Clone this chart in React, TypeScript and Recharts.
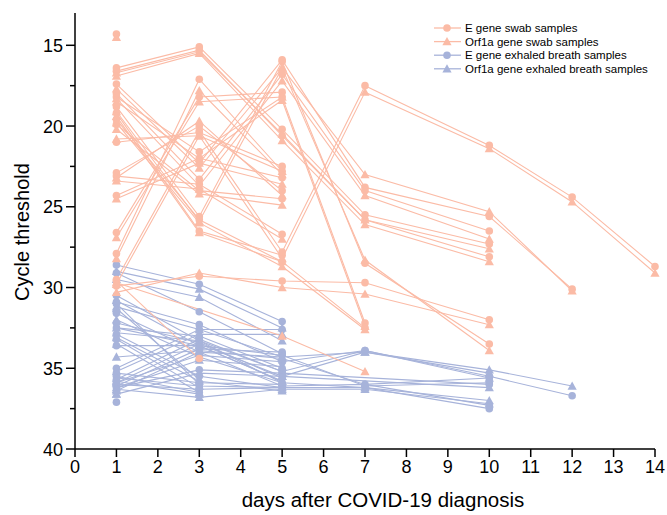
import React from 'react';
import { LineChart, Line, XAxis, YAxis } from 'recharts';

const N = null;
const DAYS = [1, 3, 5, 7, 10, 12, 14];

// Swab samples (one row per patient, values at DAYS)
const swabE: (number | null)[][] = [
  [14.3, N, N, N, N, N, N],
  [16.4, 15.1, 20.2, 25.5, 27.3, N, N],
  [16.6, 15.3, 20.6, 25.8, 28.1, N, N],
  [17.4, 22.3, 15.9, 23.8, 25.6, 30.1, N],
  [18.0, 23.3, 16.8, 24.0, 26.5, N, N],
  [18.2, 21.6, 18.2, 32.2, N, N, N],
  [18.8, 25.6, 16.0, 28.5, 33.5, N, N],
  [19.2, 26.5, 28.0, N, N, N, N],
  [19.6, 25.8, 28.4, 32.5, N, N, N],
  [19.9, 24.0, 24.5, N, N, N, N],
  [21.0, 20.4, 22.5, N, N, N, N],
  [22.9, 20.0, 24.0, N, N, N, N],
  [23.1, 23.6, 26.7, N, N, N, N],
  [24.3, 22.0, 23.2, N, N, N, N],
  [26.6, 18.2, 17.9, N, N, N, N],
  [27.9, 17.1, 22.8, N, N, N, N],
  [29.5, 20.3, 27.8, 17.5, 21.2, 24.4, 28.7],
  [29.9, 29.3, 29.6, 29.7, 32.0, N, N],
  [29.6, 34.4, N, N, N, N, N],
];
const swabOrf1a: (number | null)[][] = [
  [14.5, N, N, N, N, N, N],
  [16.7, 15.4, 20.5, 25.8, 27.6, N, N],
  [16.9, 15.5, 20.9, 26.1, 28.4, N, N],
  [17.7, 22.6, 16.4, 23.0, 25.3, 30.2, N],
  [18.3, 23.7, 17.2, 24.3, 27.0, N, N],
  [18.5, 22.0, 18.4, 32.4, N, N, N],
  [19.1, 25.9, 16.4, 28.3, 33.9, N, N],
  [19.4, 26.6, 28.4, N, N, N, N],
  [19.8, 26.0, 28.7, 32.6, N, N, N],
  [20.2, 24.2, 24.9, N, N, N, N],
  [20.8, 20.6, 22.8, N, N, N, N],
  [23.2, 19.7, 24.3, N, N, N, N],
  [23.4, 23.9, 27.0, N, N, N, N],
  [24.5, 22.3, 23.6, N, N, N, N],
  [26.9, 18.5, 18.2, N, N, N, N],
  [28.2, 17.8, 23.0, N, N, N, N],
  [29.8, 20.6, 28.2, 17.9, 21.4, 24.7, 29.1],
  [30.3, 29.1, 30.0, 30.4, 32.3, N, N],
  [29.7, N, 33.0, 35.2, N, N, N],
];

// Exhaled breath samples
const breathE: (number | null)[][] = [
  [28.6, 29.8, 32.1, N, N, N, N],
  [29.1, 31.5, 34.1, N, N, N, N],
  [30.5, 33.3, 35.9, N, N, N, N],
  [30.9, 32.3, 34.6, 33.9, 35.5, 36.7, N],
  [31.6, 34.0, 36.1, 36.0, 37.3, N, N],
  [32.5, 33.0, 35.0, N, N, N, N],
  [32.9, 35.5, 36.2, N, N, N, N],
  [33.2, 36.2, N, N, N, N, N],
  [33.6, 33.6, 34.2, 36.1, 35.9, N, N],
  [35.0, 32.6, 32.6, N, N, N, N],
  [35.3, 35.9, 36.0, N, N, N, N],
  [35.7, 33.2, 35.2, 33.9, 35.6, N, N],
  [35.9, 34.2, 34.6, N, N, N, N],
  [36.0, 36.3, 36.2, 36.2, 37.5, N, N],
  [36.1, 33.8, 34.0, N, N, N, N],
  [37.1, N, N, N, N, N, N],
  [31.0, 36.0, N, N, N, N, N],
  [32.2, 33.4, 35.6, N, N, N, N],
  [35.5, 36.5, N, N, N, N, N],
  [36.2, 35.1, 35.3, N, 36.0, N, N],
];
const breathOrf1a: (number | null)[][] = [
  [29.0, 30.1, 32.5, N, N, N, N],
  [29.5, 30.6, 33.3, N, N, N, N],
  [30.8, 33.6, 35.8, N, N, N, N],
  [31.2, 32.6, 34.3, 34.0, 35.1, 36.1, N],
  [32.0, 34.3, 35.9, 36.2, 37.0, N, N],
  [32.8, 33.3, 35.2, N, N, N, N],
  [33.1, 35.8, 36.4, N, N, N, N],
  [33.5, 36.5, N, N, N, N, N],
  [34.3, 33.9, 34.4, 36.0, 35.6, N, N],
  [35.2, 32.9, 32.9, N, N, N, N],
  [35.6, 36.1, 36.2, N, N, N, N],
  [35.9, 33.5, 35.5, 34.0, 35.3, N, N],
  [36.2, 34.5, 34.9, N, N, N, N],
  [36.3, 36.8, 36.3, 36.3, 37.2, N, N],
  [36.4, 34.0, 34.3, N, N, N, N],
  [36.6, N, N, N, N, N, N],
  [31.3, 35.7, N, N, N, N, N],
  [32.5, 33.6, 35.8, N, N, N, N],
  [35.8, 36.6, N, N, N, N, N],
  [36.6, 35.3, 35.5, N, 36.2, N, N],
];

const X_TICKS = [0, 1, 2, 3, 4, 5, 6, 7, 8, 9, 10, 11, 12, 13, 14];
const Y_TICKS = [15, 17.5, 20, 22.5, 25, 27.5, 30, 32.5, 35, 37.5, 40];
const LEGEND_LABELS = [
  'E gene swab samples',
  'Orf1a gene swab samples',
  'E gene exhaled breath samples',
  'Orf1a gene exhaled breath samples',
];

const SWAB = '#FBBBA6';
const BREATH = '#A7B3DA';
const FONT = '"Liberation Sans", Arial, Helvetica, sans-serif';

function toSeries(row: (number | null)[]) {
  const out: { day: number; ct: number }[] = [];
  row.forEach((v, i) => {
    if (v != null) out.push({ day: DAYS[i], ct: v });
  });
  return out;
}

const makeCircle = (color: string) => (props: any) => {
  const { cx, cy, index } = props;
  if (cx == null || cy == null) return <g key={`c${index}`} />;
  return <circle key={`c${index}`} cx={cx} cy={cy} r={3.8} fill={color} stroke="none" />;
};
const makeTri = (color: string) => (props: any) => {
  const { cx, cy, index } = props;
  if (cx == null || cy == null) return <g key={`t${index}`} />;
  const s = 4.6;
  return (
    <path
      key={`t${index}`}
      d={`M${cx},${cy - s} L${cx + s},${cy + s * 0.8} L${cx - s},${cy + s * 0.8} Z`}
      fill={color}
      stroke="none"
    />
  );
};

const XTick = (props: any) => {
  const { x, y, payload } = props;
  return (
    <g>
      <line x1={x} x2={x} y1={y} y2={y + 8} stroke="#000" strokeWidth={1.5} />
      <text x={x} y={y + 23.5} textAnchor="middle" fontSize={18} fontFamily={FONT} fill="#000">
        {payload.value}
      </text>
    </g>
  );
};

const YTick = (props: any) => {
  const { x, y, payload } = props;
  const major = payload.value % 5 === 0;
  return (
    <g>
      <line x1={x - (major ? 9 : 5)} x2={x} y1={y} y2={y} stroke="#000" strokeWidth={1.5} />
      {major && (
        <text x={x - 12} y={y + 6.5} textAnchor="end" fontSize={18} fontFamily={FONT} fill="#000">
          {payload.value}
        </text>
      )}
    </g>
  );
};

const YTitle = (props: any) => {
  const vb = props.viewBox || {};
  const cx = (vb.x || 0) + 29;
  const cy = (vb.y || 0) + (vb.height || 0) / 2 + 1;
  return (
    <text
      x={cx}
      y={cy}
      transform={`rotate(-90 ${cx} ${cy})`}
      textAnchor="middle"
      fontSize={20}
      fontFamily={FONT}
      fill="#000"
    >
      Cycle threshold
    </text>
  );
};

const XTitle = (props: any) => {
  const vb = props.viewBox || {};
  const cx = (vb.x || 0) + (vb.width || 0) / 2 + 18;
  const cy = (vb.y || 0) + 58;
  return (
    <text x={cx} y={cy} textAnchor="middle" fontSize={20.5} fontFamily={FONT} fill="#000">
      days after COVID-19 diagnosis
    </text>
  );
};

const LegendBox = () => {
  const rows = [
    { color: SWAB, tri: false },
    { color: SWAB, tri: true },
    { color: BREATH, tri: false },
    { color: BREATH, tri: true },
  ];
  return (
    <svg
      width={240}
      height={70}
      style={{ position: 'absolute', left: 430, top: 15 }}
    >
      {rows.map((r, i) => {
        const cy = 13 + i * 13.6;
        const cx = 17;
        return (
          <g key={i}>
            <line x1={4} x2={31} y1={cy} y2={cy} stroke={r.color} strokeWidth={1.3} />
            {r.tri ? (
              <path d={`M${cx},${cy - 4.6} L${cx + 4.6},${cy + 3.7} L${cx - 4.6},${cy + 3.7} Z`} fill={r.color} />
            ) : (
              <circle cx={cx} cy={cy} r={3.8} fill={r.color} />
            )}
            <text x={35} y={cy + 4} fontSize={11.5} fontFamily={FONT} fill="#000">
              {LEGEND_LABELS[i]}
            </text>
          </g>
        );
      })}
    </svg>
  );
};

export default function App() {
  const groups = [
    { rows: breathE, color: BREATH, dot: makeCircle(BREATH), id: 'be' },
    { rows: breathOrf1a, color: BREATH, dot: makeTri(BREATH), id: 'bo' },
    { rows: swabE, color: SWAB, dot: makeCircle(SWAB), id: 'se' },
    { rows: swabOrf1a, color: SWAB, dot: makeTri(SWAB), id: 'so' },
  ];
  return (
    <div style={{ position: 'absolute', left: 0, top: 0, width: 667, height: 515, background: '#fff' }}>
      <LineChart width={667} height={515} margin={{ top: 13, right: 12, left: 0, bottom: 36 }}>
        <XAxis
          type="number"
          dataKey="day"
          domain={[0, 14]}
          ticks={X_TICKS}
          interval={0}
          height={30}
          tick={<XTick />}
          tickLine={false}
          tickSize={0}
          tickMargin={0}
          axisLine={{ stroke: '#000', strokeWidth: 1.5 }}
          label={<XTitle />}
        />
        <YAxis
          type="number"
          dataKey="ct"
          domain={[13, 40]}
          reversed
          ticks={Y_TICKS}
          interval={0}
          width={75}
          tick={<YTick />}
          tickLine={false}
          tickSize={0}
          tickMargin={0}
          axisLine={{ stroke: '#000', strokeWidth: 1.5 }}
          label={<YTitle />}
        />
        {groups.map((g) =>
          g.rows.map((row, i) => (
            <Line
              key={`${g.id}${i}`}
              data={toSeries(row)}
              dataKey="ct"
              type="linear"
              stroke={g.color}
              strokeWidth={1.1}
              dot={g.dot}
              activeDot={false}
              isAnimationActive={false}
              legendType="none"
            />
          ))
        )}
      </LineChart>
      <LegendBox />
    </div>
  );
}
